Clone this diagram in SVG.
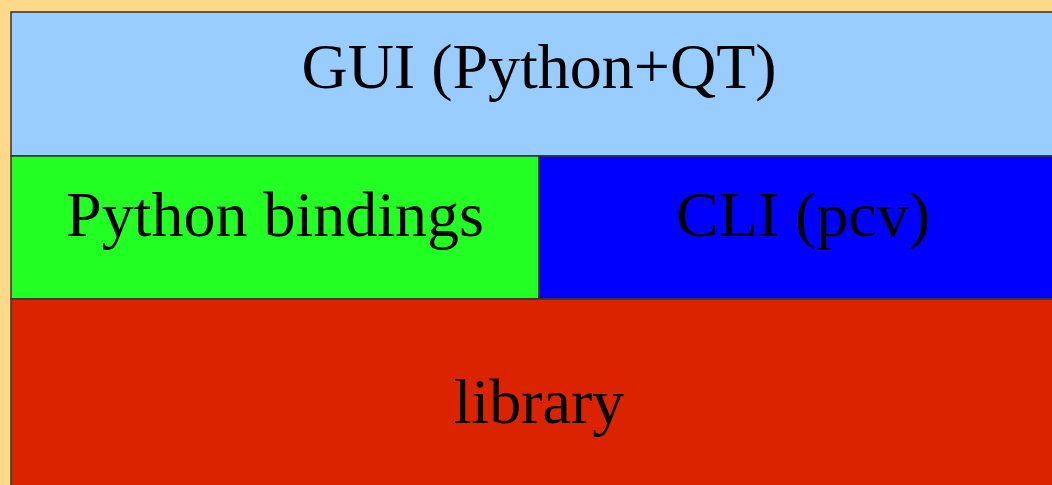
<svg xmlns="http://www.w3.org/2000/svg" width="1052" height="485" viewBox="0 0 1052 485">
<style>
.box{stroke:#333333;stroke-width:1.5}
.t{font-family:"Liberation Serif",serif;font-size:64px;fill:#000;text-anchor:middle}
</style>
<rect x="0" y="0" width="1052" height="485" fill="#ffd88a"/>
<g id="gui"><rect class="box" x="11" y="12" width="1060" height="144" fill="#99ccff"/><text class="t" x="539" y="88">GUI (Python+QT)</text></g>
<g id="bindings"><rect class="box" x="11" y="156" width="528" height="143" fill="#22ff22"/><text class="t" x="275" y="236">Python bindings</text></g>
<g id="cli"><rect class="box" x="539" y="156" width="532" height="143" fill="#0000ff"/><text class="t" x="803" y="236">CLI (pcv)</text></g>
<g id="library"><rect class="box" x="11" y="299" width="1060" height="200" fill="#dc2300"/><text class="t" x="539" y="423">library</text></g>
<g id="connectors"></g>
</svg>
